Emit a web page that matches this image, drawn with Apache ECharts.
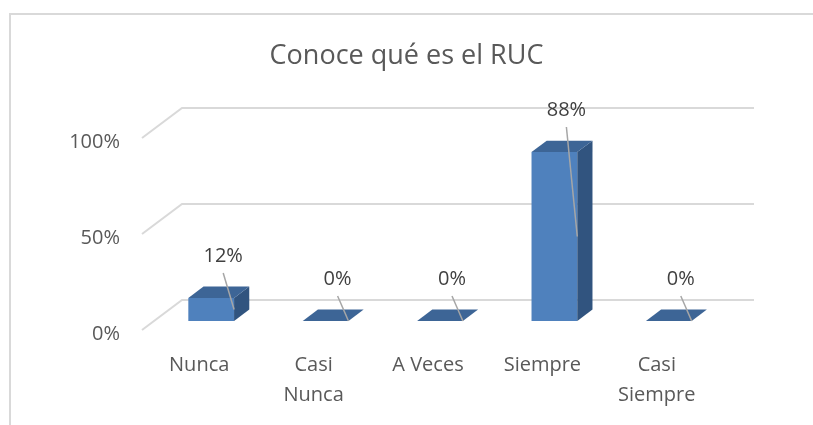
<!DOCTYPE html>
<html>
<head>
<meta charset="utf-8">
<script src="https://cdn.jsdelivr.net/npm/echarts@6/dist/echarts.min.js"></script>
<style>
  html, body { margin: 0; padding: 0; background: #ffffff; }
  #chart { width: 813px; height: 425px; }
</style>
</head>
<body>
<div id="chart"></div>
<script>
const title = 'Conoce qué es el RUC';
const categories = ['Nunca', 'Casi Nunca', 'A Veces', 'Siempre', 'Casi Siempre'];
const values = [12, 0, 0, 88, 0];
const yTicks = [0, 50, 100];

const FONT = '"Open Sans", "Liberation Sans", sans-serif';
const DX = 40, DY = -30;          // 3D depth vector of the plot floor
const F0 = 0.3, F1 = 0.68;        // bar depth range (fraction of depth)
const COL_FRONT = '#4F81BD', COL_TOP = '#3D6596', COL_SIDE = '#31547F';

function renderGrid(params, api) {
  const cs = params.coordSys;
  const y = api.coord([0, api.value(1)])[1];
  return {
    type: 'polyline',
    shape: { points: [[cs.x, y], [cs.x + DX, y + DY], [cs.x + cs.width + DX, y + DY]] },
    style: { stroke: '#D9D9D9', lineWidth: 2, fill: null }
  };
}

function renderBar(params, api) {
  const i = api.value(0), v = api.value(1);
  const base = api.coord([i, 0]);
  const top = api.coord([i, v]);
  const band = api.size([1, 0])[0];
  const w = band * 0.4;
  const cx = base[0] + DX * F0;
  const x0 = cx - w / 2, x1 = cx + w / 2;
  const yb = base[1] + DY * F0, yt = top[1] + DY * F0;
  const dx = DX * (F1 - F0), dy = DY * (F1 - F0);
  const children = [];
  if (v > 0) {
    children.push({ type: 'rect', shape: { x: x0, y: yt, width: w, height: yb - yt }, style: { fill: COL_FRONT } });
    children.push({ type: 'polygon', shape: { points: [[x1, yt], [x1 + dx, yt + dy], [x1 + dx, yb + dy], [x1, yb]] }, style: { fill: COL_SIDE } });
  }
  children.push({ type: 'polygon', shape: { points: [[x0, yt], [x0 + dx, yt + dy], [x1 + dx, yt + dy], [x1, yt]] }, style: { fill: COL_TOP } });
  const lx = cx + 12, ly = yt - 42;
  children.push({ type: 'line', shape: { x1: lx, y1: ly + 17, x2: x1, y2: (yt + yb) / 2 }, style: { stroke: '#A6A6A6', lineWidth: 1.5 } });
  children.push({ type: 'text', style: { x: lx, y: ly, text: v + '%', fill: '#404040', font: '20px ' + FONT, align: 'center', verticalAlign: 'middle' } });
  return { type: 'group', children: children };
}

const chart = echarts.init(document.getElementById('chart'), null, { renderer: 'canvas' });
chart.setOption({
  animation: false,
  backgroundColor: '#ffffff',
  title: {
    text: title, left: 'center', top: 43, padding: 0,
    textStyle: { fontFamily: FONT, fontSize: 27, fontWeight: 'normal', color: '#595959' }
  },
  graphic: [{
    type: 'rect', shape: { x: 10, y: 14, width: 900, height: 500 },
    style: { fill: null, stroke: '#D9D9D9', lineWidth: 2 }, silent: true
  }],
  grid: { left: 142, right: 99, top: 138, bottom: 95 },
  xAxis: {
    type: 'category', data: categories,
    axisLine: { show: false }, axisTick: { show: false },
    axisLabel: {
      fontFamily: FONT, fontSize: 20, color: '#595959', margin: 20, lineHeight: 30, interval: 0,
      formatter: v => v.startsWith('Casi ') ? v.replace(' ', '\n') : v
    }
  },
  yAxis: {
    type: 'value', min: yTicks[0], max: yTicks[yTicks.length - 1], interval: yTicks[1] - yTicks[0],
    axisLine: { show: false }, axisTick: { show: false }, splitLine: { show: false },
    axisLabel: { fontFamily: FONT, fontSize: 20, color: '#595959', margin: 22, verticalAlign: 'top', lineHeight: 8, formatter: '{value}%' }
  },
  series: [
    { type: 'custom', z: 1, renderItem: renderGrid, data: yTicks.map(t => [0, t]), encode: { x: 0, y: 1 }, silent: true },
    { type: 'custom', z: 2, renderItem: renderBar, data: values.map((v, i) => [i, v]), encode: { x: 0, y: 1 } }
  ]
});
</script>
</body>
</html>
